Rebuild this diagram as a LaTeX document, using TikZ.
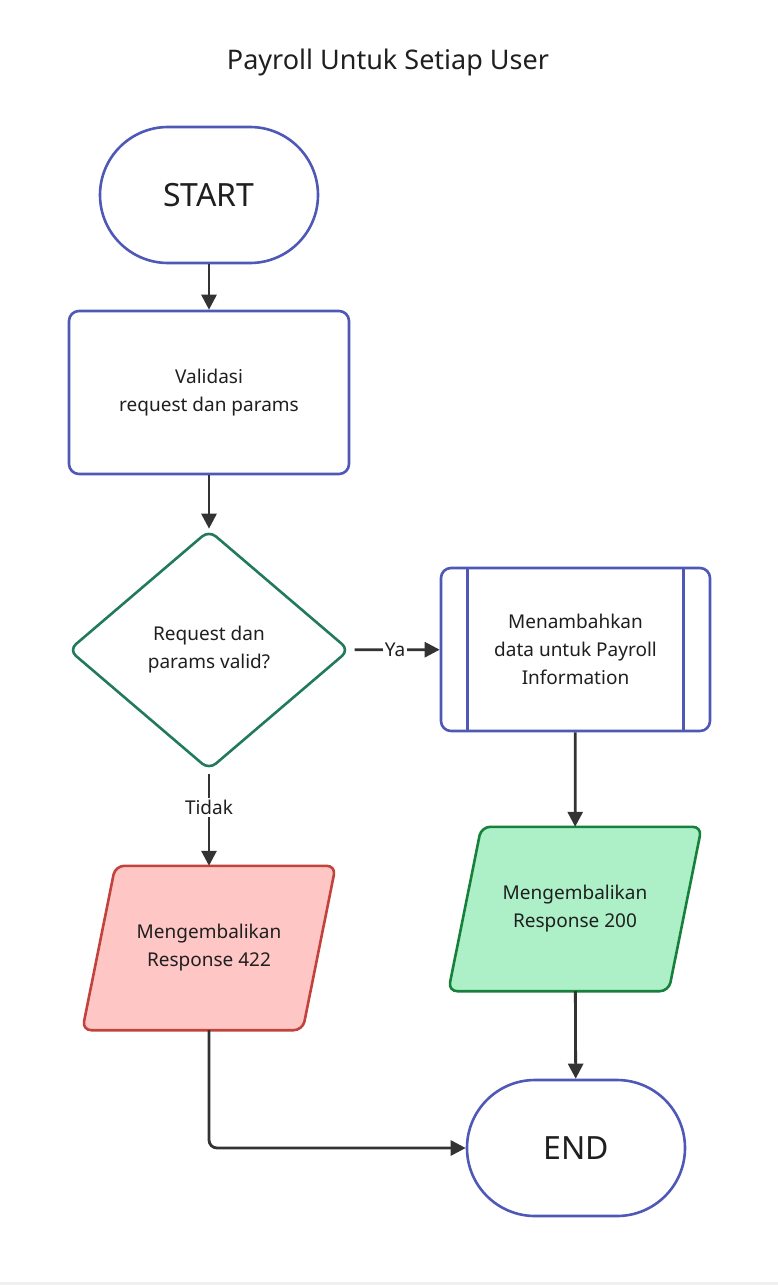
\documentclass[tikz,border=0pt]{standalone}
\usepackage{fontspec}
\setmainfont{Noto Sans}
\usetikzlibrary{calc,arrows.meta,shapes.geometric}
\definecolor{lineblue}{HTML}{4E58B6}
\definecolor{linegreen}{HTML}{217A5E}
\definecolor{okfill}{HTML}{ADF0C8}
\definecolor{okline}{HTML}{17803A}
\definecolor{errfill}{HTML}{FFC6C6}
\definecolor{errline}{HTML}{C2423C}
\definecolor{arrowgray}{HTML}{333333}
\pgfdeclarelayer{background}
\pgfsetlayers{background,main}
\tikzset{
  txt/.style={text=black!88, font=\fontsize{19}{28}\selectfont, align=center},
  terminal/.style={txt, draw=lineblue, line width=2.6pt, fill=white, rounded corners=68pt,
    minimum width=218pt, minimum height=136pt, font=\fontsize{32}{38}\selectfont},
  procbox/.style={txt, draw=lineblue, line width=2.6pt, fill=white, rounded corners=10pt,
    minimum width=280pt, minimum height=163pt},
  decision/.style={txt, draw=linegreen, line width=2.6pt, fill=white, diamond, aspect=1.17,
    rounded corners=9pt, minimum width=281pt, minimum height=240pt, inner sep=0pt},
  iobox/.style={txt, minimum width=220pt, minimum height=164pt},
  slant/.style={line width=2.6pt, rounded corners=9pt},
  flow/.style={draw=arrowgray, line width=2.8pt, -{Triangle[length=15pt,width=15pt]}},
  lbl/.style={txt, fill=white, inner sep=2pt}
}
\begin{document}
\begin{tikzpicture}[x=1pt,y=-1pt]
  \useasboundingbox (0,0) rectangle (778,1285);
  \fill[black!6] (0,1282) rectangle (778,1285);

  % title
  \node[txt, font=\fontsize{27}{32}\selectfont] (title) at (388,62) {Payroll Untuk Setiap User};

  % nodes
  \node[terminal] (start) at (209,195) {START};
  \node[procbox] (validasi) at (209,392.5) {Validasi\\request dan params};
  \node[decision] (cek) at (209,650) {Request dan\\params valid?};
  \node[procbox, minimum width=269pt] (tambah) at (575.5,649.5) {Menambahkan\\data untuk Payroll\\Information};
  \draw[lineblue, line width=2.6pt] ($(tambah.north west)+(28,0)$) -- ($(tambah.south west)+(28,0)$);
  \draw[lineblue, line width=2.6pt] ($(tambah.north east)+(-28,0)$) -- ($(tambah.south east)+(-28,0)$);
  \node[iobox] (ok) at (575,909) {Mengembalikan\\Response 200};
  \node[iobox] (gagal) at (209,948) {Mengembalikan\\Response 422};
  \node[terminal] (end) at (576,1148) {END};

  % parallelogram outlines
  \begin{pgfonlayer}{background}
    \foreach \n/\c/\f in {ok/okline/okfill, gagal/errline/errfill}
      \draw[slant, draw=\c, fill=\f] ($(\n.north west)+(16.5,0)$) -- ($(\n.north east)+(16.5,0)$)
        -- ($(\n.south east)+(-16.5,0)$) -- ($(\n.south west)+(-16.5,0)$) -- cycle;
  \end{pgfonlayer}

  % connectors
  \draw[flow] (start) -- (validasi);
  \draw[flow] (validasi) -- (cek);
  \draw[flow, shorten <=4pt] (cek) -- node[lbl] {Ya} (tambah);
  \draw[flow, shorten <=3pt] (cek) -- node[lbl, pos=0.38] {Tidak} (gagal);
  \draw[flow] (tambah) -- (ok);
  \draw[flow] (ok) -- (end);
  \draw[flow, rounded corners=8pt] (gagal.south) |- (end.west);
\end{tikzpicture}
\end{document}
